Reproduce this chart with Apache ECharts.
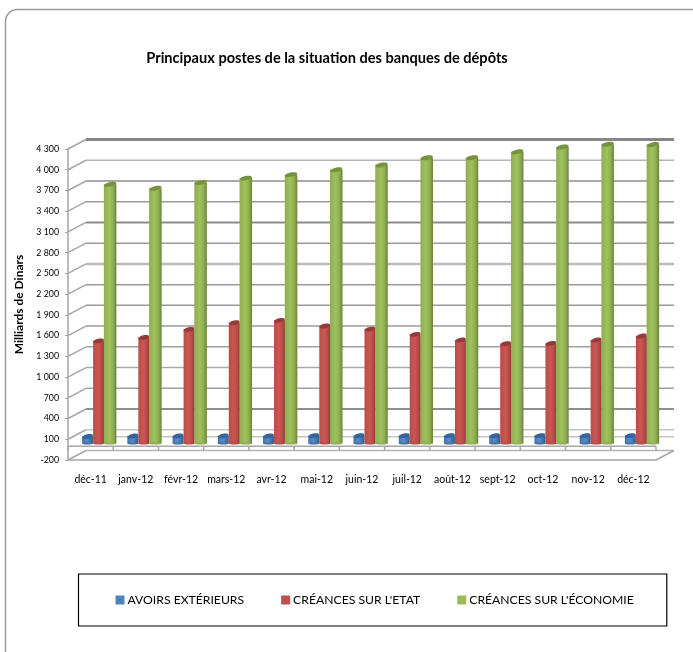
<!DOCTYPE html>
<html>
<head>
<meta charset="utf-8">
<style>
  html, body { margin: 0; padding: 0; background: #fff; }
  #chart { width: 693px; height: 652px; }
</style>
<script src="https://cdn.jsdelivr.net/npm/echarts@6/dist/echarts.min.js"></script>
</head>
<body>
<div id="chart"></div>
<script>
var categories = ['déc-11', 'janv-12', 'févr-12', 'mars-12', 'avr-12', 'mai-12', 'juin-12', 'juil-12', 'août-12', 'sept-12', 'oct-12', 'nov-12', 'déc-12']
var avoirs = [72, 78, 80, 80, 80, 82, 82, 85, 85, 82, 85, 85, 85]
var creancesEtat = [1456, 1506, 1622, 1717, 1752, 1670, 1625, 1549, 1467, 1413, 1418, 1467, 1525]
var creancesEconomie = [3720, 3662, 3746, 3810, 3860, 3930, 4000, 4105, 4105, 4190, 4260, 4300, 4295]
var yTicks = [-200, 100, 400, 700, 1000, 1300, 1600, 1900, 2200, 2500, 2800, 3100, 3400, 3700, 4000, 4300]

// depth of the fake 3D box, in pixels
var depthX = 18
var depthY = -9.5

// the gridlines in the reference are not all the same grey, from -200 up to 4300
var lineColors = ['#b4b4b4', '#c4c4c4', '#8e8e8e', '#a0a0a0', '#aaaaaa', '#a0a0a0', '#9a9a9a', '#9a9a9a', '#9a9a9a', '#bcbcbc', '#9a9a9a', '#8c8c8c', '#9a9a9a', '#8e8e8e', '#b4b4b4', '#868686']
var lineWidths = [1.5, 1.5, 2, 1.5, 1.5, 1.5, 1.5, 1.5, 1.5, 2.5, 1.5, 2, 1.5, 1.5, 1.5, 3]

function renderWall(params, api) {
  var i = params.dataIndex
  var c = params.coordSys
  var y = api.coord([0, api.value(1)])[1]
  var children = [{
    type: 'line',
    shape: { x1: c.x + depthX, y1: y + depthY, x2: c.x + c.width + depthX, y2: y + depthY },
    style: { stroke: lineColors[i], lineWidth: lineWidths[i] }
  }, {
    type: 'line',
    shape: { x1: c.x, y1: y, x2: c.x + depthX, y2: y + depthY },
    style: { stroke: '#a6a6a6', lineWidth: 1.5 }
  }]
  return { type: 'group', children: children }
}

function renderFloor(params, api) {
  var c = params.coordSys
  var y0 = api.coord([0, 0])[1]
  var bottom = c.y + c.height
  var stroke = { stroke: '#a6a6a6', lineWidth: 1.5 }
  var children = [
    { type: 'line', shape: { x1: c.x + depthX, y1: y0 + depthY, x2: c.x + c.width + depthX, y2: y0 + depthY }, style: { stroke: '#c4c4c4', lineWidth: 1.5 } },
    { type: 'line', shape: { x1: c.x, y1: y0, x2: c.x + c.width, y2: y0 }, style: stroke },
    { type: 'line', shape: { x1: c.x, y1: bottom, x2: c.x + c.width, y2: bottom }, style: stroke },
    { type: 'line', shape: { x1: c.x + c.width, y1: bottom, x2: c.x + c.width + depthX, y2: bottom + depthY }, style: stroke }
  ]
  var band = c.width / categories.length
  for (var k = 0; k <= categories.length; k++) {
    children.push({ type: 'line', shape: { x1: c.x + band * k, y1: y0, x2: c.x + band * k, y2: y0 + 4.5 }, style: stroke })
  }
  return { type: 'group', children: children }
}

function cylinder(offset, width, dark, mid, light, top) {
  return function (params, api) {
    var p = api.coord([api.value(0), api.value(1)])
    var base = api.coord([api.value(0), 0])
    var cx = p[0] + depthX / 2 + offset
    var yTop = p[1] + depthY / 2
    var yBase = base[1] + depthY / 2 + 2
    var fill = new echarts.graphic.LinearGradient(0, 0, 1, 0, [
      { offset: 0, color: mid },
      { offset: 0.45, color: light },
      { offset: 0.75, color: mid },
      { offset: 1, color: dark }
    ])
    return {
      type: 'group',
      children: [{
        type: 'rect',
        shape: { x: cx - width / 2, y: yTop, width: width, height: yBase - yTop },
        style: { fill: fill }
      }, {
        type: 'ellipse',
        shape: { cx: cx, cy: yBase, rx: width / 2, ry: 1 },
        style: { fill: mid }
      }, {
        type: 'ellipse',
        originX: cx,
        originY: yTop,
        rotation: 0.2,
        shape: { cx: cx, cy: yTop, rx: width / 2, ry: 2.2 },
        style: { fill: top }
      }]
    }
  }
}

function toPoints(values) {
  return values.map(function (v, i) { return [i, v] })
}

var chart = echarts.init(document.getElementById('chart'), null, { renderer: 'canvas' })
chart.setOption({
  animation: false,
  backgroundColor: '#fff',
  textStyle: { fontFamily: 'Lato' },
  title: {
    text: 'Principaux postes de la situation des banques de dépôts',
    left: 322,
    textAlign: 'center',
    top: 46,
    textStyle: { fontFamily: 'Lato', fontSize: 14.6, fontWeight: 'bold', color: '#000' }
  },
  graphic: [{
    type: 'rect',
    z: -1,
    shape: { x: 5.5, y: 9.5, width: 720, height: 700, r: 12 },
    style: { fill: 'none', stroke: '#9a9a9a', lineWidth: 1.5 }
  }],
  legend: {
    data: ['AVOIRS EXTÉRIEURS', 'CRÉANCES SUR L\'ETAT', 'CRÉANCES SUR L\'ÉCONOMIE'],
    left: 78.5,
    top: 574,
    orient: 'horizontal',
    padding: [20, 33, 20, 37],
    itemGap: 37,
    itemWidth: 9,
    itemHeight: 9,
    icon: 'rect',
    borderColor: '#000',
    borderWidth: 1.2,
    borderRadius: 0,
    selectedMode: false,
    textStyle: { fontFamily: 'Lato', fontSize: 12.2, color: '#000', padding: [0, 0, 0, -2] }
  },
  grid: { left: 68, top: 149, width: 588, height: 311, containLabel: false },
  xAxis: {
    type: 'category',
    data: categories,
    axisLine: { show: false },
    axisTick: { show: false },
    axisLabel: { interval: 0, margin: 14, fontSize: 10.5, color: '#000', fontFamily: 'Lato' }
  },
  yAxis: {
    type: 'value',
    min: -200,
    max: 4300,
    name: 'Milliards de Dinars',
    nameLocation: 'middle',
    nameGap: 43,
    nameTextStyle: { fontFamily: 'Lato', fontSize: 12, fontWeight: 'bold', color: '#000' },
    splitLine: { show: false },
    axisLine: { show: true, lineStyle: { color: '#a6a6a6', width: 1.5 } },
    axisTick: { show: true, customValues: yTicks, length: 3, lineStyle: { color: '#a6a6a6' } },
    axisLabel: {
      customValues: yTicks,
      margin: 9,
      fontSize: 8.8,
      color: '#000',
      fontFamily: 'Lato',
      formatter: function (v) {
        return String(v).replace(/(\d)(\d{3})$/, '$1 $2')
      }
    }
  },
  series: [
    {
      type: 'custom',
      name: 'murs',
      z: 1,
      renderItem: renderWall,
      data: yTicks.map(function (v) { return [0, v] })
    },
    {
      type: 'custom',
      name: 'sol',
      z: 1,
      renderItem: renderFloor,
      data: [[0, 0]]
    },
    {
      type: 'custom',
      name: 'AVOIRS EXTÉRIEURS',
      z: 2,
      itemStyle: { color: '#4f81bd' },
      renderItem: cylinder(-12, 11, '#34608f', '#4472a8', '#5a8ccb', '#35639b'),
      data: toPoints(avoirs)
    },
    {
      type: 'custom',
      name: 'CRÉANCES SUR L\'ETAT',
      z: 3,
      itemStyle: { color: '#c0504d' },
      renderItem: cylinder(-1, 11, '#8f3a38', '#b84c49', '#cc5652', '#943c3a'),
      data: toPoints(creancesEtat)
    },
    {
      type: 'custom',
      name: 'CRÉANCES SUR L\'ÉCONOMIE',
      z: 4,
      itemStyle: { color: '#9bbb59' },
      renderItem: cylinder(10.5, 12.5, '#67823a', '#8fad52', '#a0c15c', '#76923f'),
      data: toPoints(creancesEconomie)
    }
  ]
})

window.addEventListener('resize', function () {
  chart.resize()
})
</script>
</body>
</html>
